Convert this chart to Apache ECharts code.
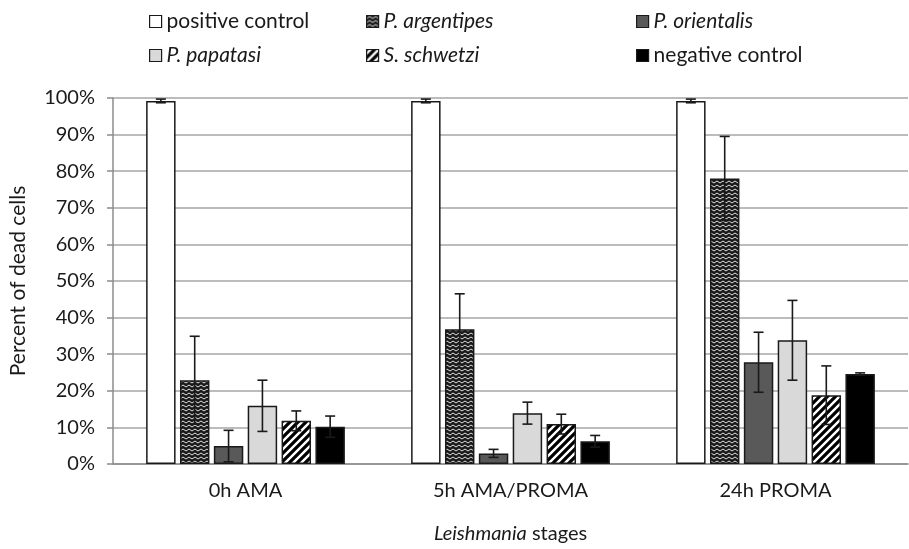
<!DOCTYPE html>
<html>
<head>
<meta charset="utf-8">
<script src="https://cdn.jsdelivr.net/npm/echarts@6/dist/echarts.min.js"></script>
<style>html,body{margin:0;padding:0;background:#fff}#c{width:909px;height:549px}</style>
</head>
<body>
<div id="c"></div>
<script>
const categories = ['0h AMA', '5h AMA/PROMA', '24h PROMA'];
const seriesNames = ['positive control', 'P. argentipes', 'P. orientalis', 'P. papatasi', 'S. schwetzi', 'negative control'];
const positiveControl = [99.2, 99.2, 99.2];
const positiveControlErr = [0.5, 0.5, 0.5];
const argentipes = [22.9, 36.8, 78];
const argentipesErr = [12, 9.7, 11.5];
const orientalis = [4.9, 2.9, 27.8];
const orientalisErr = [4.3, 1.1, 8.2];
const papatasi = [15.9, 13.9, 33.8];
const papatasiErr = [7, 3, 10.9];
const schwetzi = [11.8, 10.9, 18.8];
const schwetziErr = [2.7, 2.7, 8];
const negativeControl = [10.2, 6.2, 24.6];
const negativeControlErr = [2.9, 1.6, 0.3];
const yTicks = [0, 10, 20, 30, 40, 50, 60, 70, 80, 90, 100];

const values = [positiveControl, argentipes, orientalis, papatasi, schwetzi, negativeControl];
const errors = [positiveControlErr, argentipesErr, orientalisErr, papatasiErr, schwetziErr, negativeControlErr];

function zigzagPattern() {
  const c = document.createElement('canvas');
  c.width = 6; c.height = 4;
  const g = c.getContext('2d');
  g.fillStyle = '#1a1a1a'; g.fillRect(0, 0, 6, 4);
  g.strokeStyle = '#e0e0e0'; g.lineWidth = 1;
  g.beginPath(); g.moveTo(0, 3); g.lineTo(3, 1); g.lineTo(6, 3); g.stroke();
  return c;
}
function stripePattern() {
  const s = 8;
  const c = document.createElement('canvas');
  c.width = s; c.height = s;
  const g = c.getContext('2d');
  g.fillStyle = '#fff'; g.fillRect(0, 0, s, s);
  g.strokeStyle = '#000'; g.lineWidth = 3.2;
  g.beginPath();
  g.moveTo(-s, s * 2); g.lineTo(s * 2, -s);
  g.moveTo(-s * 2, s); g.lineTo(s, -s * 2);
  g.moveTo(0, s * 3); g.lineTo(s * 3, 0);
  g.moveTo(-s, s); g.lineTo(s, -s);
  g.moveTo(0, s * 2); g.lineTo(s * 2, 0);
  g.stroke();
  return c;
}
const fills = [
  '#ffffff',
  { image: zigzagPattern(), repeat: 'repeat' },
  '#595959',
  '#d9d9d9',
  { image: stripePattern(), repeat: 'repeat' },
  '#000000'
];
const italic = [false, true, true, true, true, false];

const chart = echarts.init(document.getElementById('c'));
const FONT = 'Lato';
const FS = 20;
const LFS = 21;
const CAT_GAP = 0.25, BAR_GAP = 0.15, N = 6;

const barSeries = seriesNames.map((name, i) => ({
  name: name,
  type: 'bar',
  data: values[i],
  barCategoryGap: '25%',
  barGap: '15%',
  itemStyle: { color: fills[i], borderColor: '#1a1a1a', borderWidth: 1.5 },
  emphasis: { disabled: true },
  z: 2
}));

const errData = [];
for (let i = 0; i < N; i++) {
  for (let j = 0; j < categories.length; j++) {
    errData.push([j, values[i][j], errors[i][j], i]);
  }
}

const errSeries = {
  type: 'custom',
  name: 'err',
  data: errData,
  encode: { x: 0, y: 1 },
  z: 10,
  silent: true,
  renderItem: function (params, api) {
    const cat = api.value(0), v = api.value(1), e = api.value(2), idx = api.value(3);
    const bandW = api.size([1, 0])[0];
    const barW = bandW * (1 - CAT_GAP) / (N + (N - 1) * BAR_GAP);
    const step = barW * (1 + BAR_GAP);
    const cx = api.coord([cat, v])[0] + (idx - (N - 1) / 2) * step;
    const yTop = api.coord([cat, v + e])[1];
    const yBot = api.coord([cat, v - e])[1];
    const cap = 5;
    const st = { stroke: '#1a1a1a', lineWidth: 1.6 };
    return {
      type: 'group',
      children: [
        { type: 'line', shape: { x1: cx, y1: yTop, x2: cx, y2: yBot }, style: st },
        { type: 'line', shape: { x1: cx - cap, y1: yTop, x2: cx + cap, y2: yTop }, style: st },
        { type: 'line', shape: { x1: cx - cap, y1: yBot, x2: cx + cap, y2: yBot }, style: st }
      ]
    };
  }
};

const legendPos = [
  [144, 6], [361, 6], [631, 6],
  [144, 40], [361, 40], [631, 40]
];
const legends = seriesNames.map((name, i) => ({
  data: [name],
  left: legendPos[i][0],
  top: legendPos[i][1],
  icon: 'rect',
  itemWidth: 12,
  itemHeight: 12,
  itemGap: 0,
  selectedMode: false,
  itemStyle: { borderColor: '#1a1a1a', borderWidth: 1.2 },
  formatter: function (n) { return italic[i] ? '{i|' + n + '}' : '{n|' + n + '}'; },
  textStyle: {
    fontFamily: FONT, fontSize: LFS, color: '#1a1a1a', padding: [0, 0, 0, 0],
    rich: {
      i: { fontFamily: FONT, fontSize: LFS, fontStyle: 'italic', color: '#1a1a1a' },
      n: { fontFamily: FONT, fontSize: LFS, color: '#1a1a1a' }
    }
  }
}));

chart.setOption({
  animation: false,
  backgroundColor: '#ffffff',
  legend: legends,
  grid: { left: 110, right: 1, top: 98, bottom: 83, containLabel: false },
  xAxis: {
    type: 'category',
    data: categories,
    axisLine: { lineStyle: { color: '#8c8c8c', width: 1.5 } },
    axisTick: { show: false },
    axisLabel: { fontFamily: FONT, fontSize: FS, color: '#1a1a1a', margin: 17 },
    name: '{i|Leishmania} stages',
    nameLocation: 'middle',
    nameGap: 60,
    nameTextStyle: {
      fontFamily: FONT, fontSize: FS, color: '#1a1a1a',
      rich: { i: { fontFamily: FONT, fontSize: FS, fontStyle: 'italic', color: '#1a1a1a' } }
    }
  },
  yAxis: {
    type: 'value',
    min: yTicks[0],
    max: yTicks[yTicks.length - 1],
    interval: 10,
    axisLine: { show: true, lineStyle: { color: '#8c8c8c', width: 1.5 } },
    axisTick: { show: true, length: 6, lineStyle: { color: '#8c8c8c', width: 1.5 } },
    splitLine: { lineStyle: { color: '#a6a6a6', width: 1.5 } },
    axisLabel: { fontFamily: FONT, fontSize: FS, color: '#1a1a1a', margin: 18, formatter: '{value}%' },
    name: 'Percent of dead cells',
    nameLocation: 'middle',
    nameGap: 84,
    nameRotate: 90,
    nameTextStyle: { fontFamily: FONT, fontSize: FS + 1, color: '#1a1a1a' }
  },
  series: barSeries.concat([errSeries])
});
</script>
</body>
</html>
